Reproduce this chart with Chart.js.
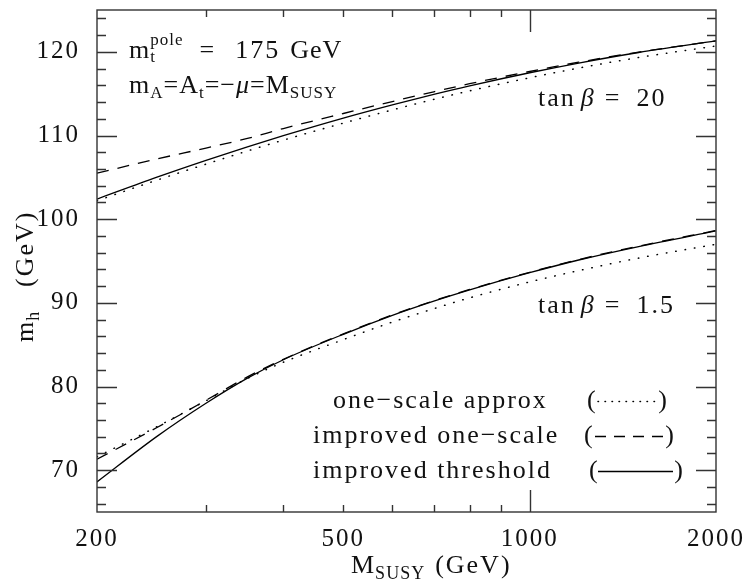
<!DOCTYPE html>
<html>
<head>
<meta charset="utf-8">
<script src="https://cdn.jsdelivr.net/npm/chart.js@4.4.1/dist/chart.umd.min.js"></script>
<style>
  html, body { margin: 0; padding: 0; background: #fff; }
</style>
</head>
<body>
<canvas id="mhChart" width="743" height="588"></canvas>
<script>
// M_SUSY grid (GeV)
const msusy = [200, 250, 300, 350, 400, 500, 600, 700, 800, 1000, 1200, 1500, 2000];

// tan beta = 20
const tb20OneScale  = [102.2, 104.67, 106.58, 108.15, 109.45, 111.48, 113.06, 114.32, 115.34, 116.9, 118.06, 119.32, 120.7];
const tb20Improved  = [105.5, 107.2, 108.5, 109.65, 110.83, 112.63, 114.06, 115.22, 116.19, 117.65, 118.76, 119.97, 121.3];
const tb20Threshold = [102.4, 105.02, 107.03, 108.65, 109.98, 112.08, 113.66, 114.92, 115.94, 117.5, 118.66, 119.92, 121.3];

// tan beta = 1.5
const tb15OneScale  = [71.6, 75.2, 78.3, 80.95, 82.9, 85.6, 87.7, 89.3, 90.6, 92.5, 93.85, 95.35, 97.0];
const tb15Improved  = [71.3, 75.1, 78.35, 81.15, 83.25, 86.29, 88.55, 90.25, 91.6, 93.65, 95.17, 96.78, 98.65];
const tb15Threshold = [68.6, 74.04, 78.0, 81.0, 83.2, 86.24, 88.5, 90.2, 91.55, 93.6, 95.12, 96.73, 98.6];

// axis ticks
const xTickLabels = [200, 500, 1000, 2000];
const xMinorTicks = [300, 400, 500, 600, 700, 800, 900];
const xMajorTicks = [1000];
const yTickLabels = [70, 80, 90, 100, 110, 120];
const yMinorTicks = [66, 68, 72, 74, 76, 78, 82, 84, 86, 88, 92, 94, 96, 98, 102, 104, 106, 108, 112, 114, 116, 118, 122, 124];

const FONT = '"Liberation Serif", "Times New Roman", serif';
const INK = '#111';
const FRAME = '#333';

function toPoints(ys) {
  return msusy.map((x, i) => ({ x: x, y: ys[i] }));
}

const dotted = { borderDash: [0.5, 9], borderCapStyle: 'round', borderWidth: 1.5 };
const dashed = { borderDash: [12, 9], borderCapStyle: 'butt', borderWidth: 1.3 };
const solid = { borderDash: [], borderCapStyle: 'butt', borderWidth: 1.3 };

function series(label, ys, style) {
  return Object.assign({
    label: label,
    data: toPoints(ys),
    borderColor: '#000',
    pointRadius: 0,
    fill: false,
    cubicInterpolationMode: 'monotone',
  }, style);
}

// draws a run of text pieces; each piece may be smaller, shifted or italic
function richText(ctx, x, y, parts, angle) {
  ctx.save();
  ctx.translate(x, y);
  if (angle) ctx.rotate(angle);
  ctx.fillStyle = INK;
  ctx.textAlign = 'left';
  ctx.textBaseline = 'alphabetic';
  let cx = 0;
  parts.forEach(p => {
    if (p.gap) { cx += p.gap; return; }
    ctx.font = (p.it ? 'italic ' : '') + (p.size || 26) + 'px ' + FONT;
    ctx.letterSpacing = (p.ls != null ? p.ls : 1) + 'px';
    ctx.fillText(p.t, cx, p.dy || 0);
    if (!p.keep) cx += ctx.measureText(p.t).width;
  });
  ctx.restore();
}

function text(ctx, str, x, y, align, ls) {
  ctx.save();
  ctx.font = '26px ' + FONT;
  ctx.letterSpacing = (ls != null ? ls : 2) + 'px';
  ctx.fillStyle = INK;
  ctx.textAlign = align || 'left';
  ctx.textBaseline = 'alphabetic';
  ctx.fillText(str, x, y);
  ctx.restore();
}

function sample(ctx, x1, x2, y, dash, cap, width) {
  ctx.save();
  ctx.strokeStyle = '#000';
  ctx.lineWidth = width;
  ctx.lineCap = cap;
  ctx.setLineDash(dash);
  ctx.beginPath();
  ctx.moveTo(x1, y);
  ctx.lineTo(x2, y);
  ctx.stroke();
  ctx.restore();
}

const letterSpacing = {
  id: 'letterSpacing',
  beforeDraw(chart) {
    chart.ctx.letterSpacing = '2px';
  },
};

// frame, inward tick marks on all four sides, and the annotations
const frameAndNotes = {
  id: 'frameAndNotes',
  afterDraw(chart) {
    const ctx = chart.ctx;
    const a = chart.chartArea;
    const xs = chart.scales.x;
    const ys = chart.scales.y;

    ctx.save();
    ctx.strokeStyle = FRAME;
    ctx.lineWidth = 1.4;
    ctx.strokeRect(a.left, a.top, a.right - a.left, a.bottom - a.top);

    ctx.beginPath();
    const yTick = (v, len) => {
      const py = Math.round(ys.getPixelForValue(v)) + 0.5;
      ctx.moveTo(a.left, py); ctx.lineTo(a.left + len, py);
      ctx.moveTo(a.right, py); ctx.lineTo(a.right - len, py);
    };
    const xTick = (v, len) => {
      const px = Math.round(xs.getPixelForValue(v)) + 0.5;
      ctx.moveTo(px, a.bottom); ctx.lineTo(px, a.bottom - len);
      ctx.moveTo(px, a.top); ctx.lineTo(px, a.top + len);
    };
    yMinorTicks.forEach(v => yTick(v, 9));
    yTickLabels.forEach(v => yTick(v, 20));
    xMinorTicks.forEach(v => xTick(v, 7));
    xMajorTicks.forEach(v => xTick(v, 22));
    ctx.stroke();
    ctx.restore();

    // parameter block
    richText(ctx, 129, 58, [
      { t: 'm' },
      { t: 't', size: 17, dy: 4, keep: true },
      { t: 'pole', size: 17, dy: -13 },
      { gap: 16 },
      { t: '=' },
      { gap: 20 },
      { t: '175', ls: 2 },
      { gap: 10 },
      { t: 'GeV', ls: 1 },
    ]);
    richText(ctx, 129, 93, [
      { t: 'm' },
      { t: 'A', size: 17, dy: 5 },
      { t: '=' },
      { t: 'A' },
      { t: 't', size: 17, dy: 5 },
      { t: '=' },
      { t: '\u2212' },
      { t: '\u03bc', it: true },
      { t: '=' },
      { t: 'M' },
      { t: 'SUSY', size: 17, dy: 5 },
    ]);

    // curve labels
    richText(ctx, 538, 106, [
      { t: 'tan', ls: 2 }, { gap: 5 }, { t: '\u03b2', it: true }, { gap: 10 },
      { t: '=' }, { gap: 16 }, { t: '20', ls: 2 },
    ]);
    richText(ctx, 538, 313, [
      { t: 'tan', ls: 2 }, { gap: 5 }, { t: '\u03b2', it: true }, { gap: 10 },
      { t: '=' }, { gap: 16 }, { t: '1.5', ls: 2 },
    ]);

    // key
    text(ctx, 'one\u2212scale approx', 333, 408);
    text(ctx, 'improved one\u2212scale', 313, 443);
    text(ctx, 'improved threshold', 313, 478);

    text(ctx, '(', 587, 408, 'left', 0);
    sample(ctx, 598, 657, 401.5, [0.5, 6.5], 'round', 1.5);
    text(ctx, ')', 667, 408, 'right', 0);

    text(ctx, '(', 584, 443, 'left', 0);
    sample(ctx, 595, 663, 436.5, [11, 8], 'butt', 1.3);
    text(ctx, ')', 674, 443, 'right', 0);

    text(ctx, '(', 589, 478, 'left', 0);
    sample(ctx, 598, 673, 471.5, [], 'butt', 1.3);
    text(ctx, ')', 683, 478, 'right', 0);

    // axis titles
    richText(ctx, 351, 573, [
      { t: 'M' }, { t: 'SUSY', size: 18, dy: 6 }, { gap: 10 }, { t: '(GeV)', ls: 2 },
    ]);
    richText(ctx, 33, 342, [
      { t: 'm' }, { t: 'h', size: 18, dy: 6 },
    ], -Math.PI / 2);
    richText(ctx, 33, 287, [
      { t: '(GeV)', ls: 2 },
    ], -Math.PI / 2);
  },
};

const tickFont = { family: FONT, size: 25 };

new Chart(document.getElementById('mhChart'), {
  type: 'line',
  data: {
    datasets: [
      series('one-scale approx (tan\u03b2=20)', tb20OneScale, dotted),
      series('improved one-scale (tan\u03b2=20)', tb20Improved, dashed),
      series('improved threshold (tan\u03b2=20)', tb20Threshold, solid),
      series('one-scale approx (tan\u03b2=1.5)', tb15OneScale, dotted),
      series('improved one-scale (tan\u03b2=1.5)', tb15Improved, dashed),
      series('improved threshold (tan\u03b2=1.5)', tb15Threshold, solid),
    ],
  },
  options: {
    responsive: false,
    animation: false,
    devicePixelRatio: 1,
    layout: { padding: { top: 10, right: 27, left: 0, bottom: 0 } },
    plugins: {
      legend: { display: false },
      tooltip: { enabled: false },
    },
    scales: {
      x: {
        type: 'logarithmic',
        min: 200,
        max: 2000,
        afterBuildTicks: s => { s.ticks = xTickLabels.map(v => ({ value: v })); },
        afterFit: s => { s.height = 76; s.paddingLeft = 0; s.paddingRight = 0; },
        grid: { display: false, drawTicks: false },
        border: { display: false },
        ticks: {
          font: tickFont,
          color: INK,
          padding: 12,
          maxRotation: 0,
          autoSkip: false,
          callback: v => String(v),
        },
      },
      y: {
        type: 'linear',
        min: 65,
        max: 125,
        afterBuildTicks: s => { s.ticks = yTickLabels.map(v => ({ value: v })); },
        afterFit: s => { s.width = 97; s.paddingTop = 0; s.paddingBottom = 0; },
        grid: { display: false, drawTicks: false },
        border: { display: false },
        ticks: {
          font: tickFont,
          color: INK,
          padding: 17,
          callback: v => String(v),
        },
      },
    },
  },
  plugins: [letterSpacing, frameAndNotes],
});
</script>
</body>
</html>
